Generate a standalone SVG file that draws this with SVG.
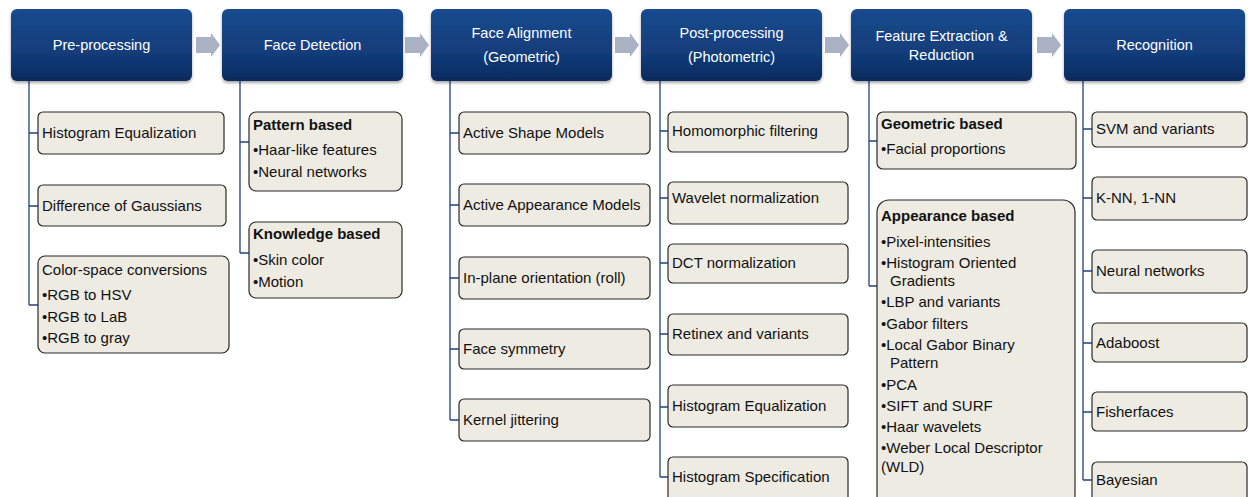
<svg xmlns="http://www.w3.org/2000/svg" width="1248" height="497" viewBox="0 0 1248 497">
<defs>
<linearGradient id="hg" x1="0" y1="0" x2="0" y2="1">
<stop offset="0" stop-color="#1a4b8f"/>
<stop offset="0.6" stop-color="#123d7a"/>
<stop offset="1" stop-color="#0b2a5e"/>
</linearGradient>
<filter id="sh" x="-10%" y="-10%" width="120%" height="130%">
<feGaussianBlur in="SourceAlpha" stdDeviation="1.5"/>
<feOffset dx="0" dy="1.5"/>
<feComponentTransfer><feFuncA type="linear" slope="0.35"/></feComponentTransfer>
<feMerge><feMergeNode/><feMergeNode in="SourceGraphic"/></feMerge>
</filter>
<polygon id="arr" points="0,-8 15,-8 15,-12 24,0 15,12 15,8 0,8"/>
</defs>
<style>
.hdr{fill:url(#hg);filter:url(#sh)}
.ht{fill:#ffffff;font-family:"Liberation Sans",Arial,sans-serif;font-size:14.5px;text-anchor:middle}
.box{fill:#eeebe3;stroke:#2b2b2b;stroke-width:1.2}
.t{fill:#111;font-family:"Liberation Sans",Arial,sans-serif;font-size:15px}
.b{font-weight:bold}
.ln{stroke:#23427a;stroke-width:1.3;fill:none}
.ar{fill:#a9b1c2}
</style>

<g id="arrows">
<use href="#arr" class="ar" x="196" y="45"/>
<use href="#arr" class="ar" x="405" y="45"/>
<use href="#arr" class="ar" x="615" y="45"/>
<use href="#arr" class="ar" x="825" y="45"/>
<use href="#arr" class="ar" x="1037" y="45"/>
</g>

<g id="connectors">
<path class="ln" d="M29,81 V305 M29,133 H38 M29,206 H38 M29,305 H38"/>
<path class="ln" d="M240,81 V253 M240,142 H249 M240,253 H249"/>
<path class="ln" d="M450,81 V420 M450,133 H459 M450,205 H459 M450,278 H459 M450,349 H459 M450,420 H459"/>
<path class="ln" d="M660,81 V477 M660,131 H668 M660,198 H668 M660,263 H668 M660,334 H668 M660,407 H668 M660,477 H668"/>
<path class="ln" d="M869,81 V286 M869,141 H877 M869,286 H877"/>
<path class="ln" d="M1083,81 V480 M1083,129 H1092 M1083,198 H1092 M1083,271 H1092 M1083,343 H1092 M1083,412 H1092 M1083,480 H1092"/>
</g>

<g id="h-pre"><rect class="hdr" x="11" y="9" width="181" height="72" rx="6"/><text class="ht" x="101.5" y="50">Pre-processing</text></g>
<g id="h-det"><rect class="hdr" x="222" y="9" width="181" height="72" rx="6"/><text class="ht" x="312.5" y="50">Face Detection</text></g>
<g id="h-ali"><rect class="hdr" x="431" y="9" width="181" height="72" rx="6"/><text class="ht" x="521.5" y="38">Face Alignment</text><text class="ht" x="521.5" y="62">(Geometric)</text></g>
<g id="h-post"><rect class="hdr" x="641" y="9" width="181" height="72" rx="6"/><text class="ht" x="731.5" y="38">Post-processing</text><text class="ht" x="731.5" y="62">(Photometric)</text></g>
<g id="h-feat"><rect class="hdr" x="851" y="9" width="181" height="72" rx="6"/><text class="ht" x="941.5" y="41">Feature Extraction &amp;</text><text class="ht" x="941.5" y="60">Reduction</text></g>
<g id="h-rec"><rect class="hdr" x="1064" y="9" width="181" height="72" rx="6"/><text class="ht" x="1154.5" y="50">Recognition</text></g>

<g id="pre-1"><rect class="box" x="38" y="112" width="186" height="42" rx="5"/><text class="t" x="42" y="138">Histogram Equalization</text></g>
<g id="pre-2"><rect class="box" x="38" y="185" width="188" height="41" rx="5"/><text class="t" x="42" y="211">Difference of Gaussians</text></g>
<g id="pre-3"><rect class="box" x="38" y="256" width="191" height="97" rx="7"/>
<text class="t" x="42" y="275">Color-space conversions</text>
<text class="t" x="42" y="300">•RGB to HSV</text>
<text class="t" x="42" y="322">•RGB to LaB</text>
<text class="t" x="42" y="343">•RGB to gray</text></g>

<g id="det-1"><rect class="box" x="249" y="112" width="153" height="79" rx="7"/>
<text class="t b" x="253" y="130">Pattern based</text>
<text class="t" x="253" y="155">•Haar-like features</text>
<text class="t" x="253" y="177">•Neural networks</text></g>
<g id="det-2"><rect class="box" x="249" y="222" width="153" height="76" rx="7"/>
<text class="t b" x="253" y="239">Knowledge based</text>
<text class="t" x="253" y="265">•Skin color</text>
<text class="t" x="253" y="287">•Motion</text></g>

<g id="ali-1"><rect class="box" x="459" y="112" width="191" height="42" rx="5"/><text class="t" x="463" y="138">Active Shape Models</text></g>
<g id="ali-2"><rect class="box" x="459" y="184" width="191" height="42" rx="5"/><text class="t" x="463" y="210">Active Appearance Models</text></g>
<g id="ali-3"><rect class="box" x="459" y="257" width="191" height="42" rx="5"/><text class="t" x="463" y="283">In-plane orientation (roll)</text></g>
<g id="ali-4"><rect class="box" x="459" y="329" width="191" height="40" rx="5"/><text class="t" x="463" y="354">Face symmetry</text></g>
<g id="ali-5"><rect class="box" x="459" y="399" width="191" height="42" rx="5"/><text class="t" x="463" y="425">Kernel jittering</text></g>

<g id="post-1"><rect class="box" x="668" y="112" width="180" height="40" rx="5"/><text class="t" x="672" y="136">Homomorphic filtering</text></g>
<g id="post-2"><rect class="box" x="668" y="182" width="180" height="42" rx="5"/><text class="t" x="672" y="203">Wavelet normalization</text></g>
<g id="post-3"><rect class="box" x="668" y="244" width="180" height="39" rx="5"/><text class="t" x="672" y="268">DCT normalization</text></g>
<g id="post-4"><rect class="box" x="668" y="314" width="180" height="41" rx="5"/><text class="t" x="672" y="339">Retinex and variants</text></g>
<g id="post-5"><rect class="box" x="668" y="385" width="180" height="42" rx="5"/><text class="t" x="672" y="411">Histogram Equalization</text></g>
<g id="post-6"><rect class="box" x="668" y="457" width="180" height="46" rx="5"/><text class="t" x="672" y="482">Histogram Specification</text></g>

<g id="feat-1"><rect class="box" x="877" y="112" width="199" height="57" rx="6"/>
<text class="t b" x="881" y="129">Geometric based</text>
<text class="t" x="881" y="154">•Facial proportions</text></g>
<g id="feat-2"><rect class="box" x="877" y="200" width="198" height="308" rx="12"/>
<text class="t b" x="881" y="221">Appearance based</text>
<text class="t" x="881" y="247">•Pixel-intensities</text>
<text class="t" x="881" y="268">•Histogram Oriented</text>
<text class="t" x="890" y="286">Gradients</text>
<text class="t" x="881" y="307">•LBP and variants</text>
<text class="t" x="881" y="329">•Gabor filters</text>
<text class="t" x="881" y="350">•Local Gabor Binary</text>
<text class="t" x="890" y="368">Pattern</text>
<text class="t" x="881" y="390">•PCA</text>
<text class="t" x="881" y="411">•SIFT and SURF</text>
<text class="t" x="881" y="432">•Haar wavelets</text>
<text class="t" x="881" y="453">•Weber Local Descriptor</text>
<text class="t" x="881" y="472">(WLD)</text></g>

<g id="rec-1"><rect class="box" x="1092" y="112" width="155" height="35" rx="5"/><text class="t" x="1096" y="134">SVM and variants</text></g>
<g id="rec-2"><rect class="box" x="1092" y="177" width="155" height="43" rx="5"/><text class="t" x="1096" y="203">K-NN, 1-NN</text></g>
<g id="rec-3"><rect class="box" x="1092" y="250" width="155" height="43" rx="5"/><text class="t" x="1096" y="276">Neural networks</text></g>
<g id="rec-4"><rect class="box" x="1092" y="323" width="155" height="39" rx="5"/><text class="t" x="1096" y="348">Adaboost</text></g>
<g id="rec-5"><rect class="box" x="1092" y="392" width="155" height="39" rx="5"/><text class="t" x="1096" y="417">Fisherfaces</text></g>
<g id="rec-6"><rect class="box" x="1092" y="462" width="155" height="44" rx="5"/><text class="t" x="1096" y="485">Bayesian</text></g>
</svg>
